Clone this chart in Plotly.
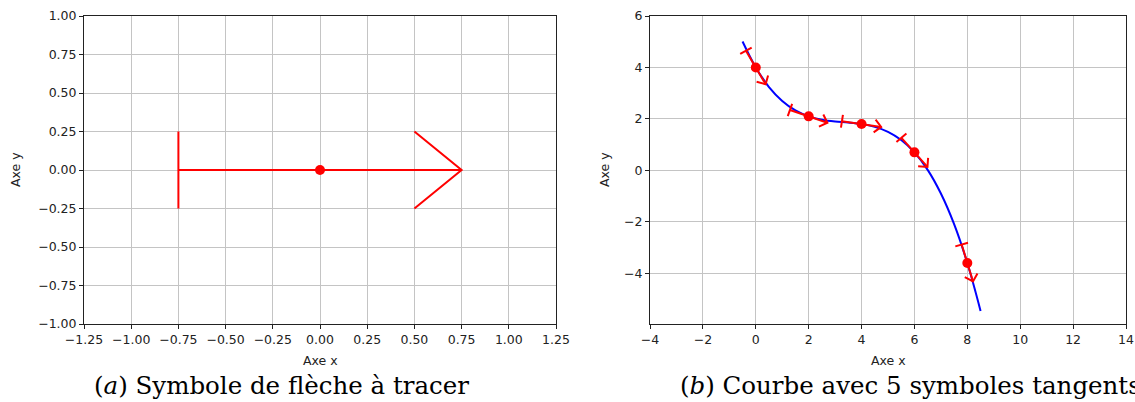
import math
import plotly.graph_objects as go

# ---------------- Data ----------------
# Panel (a): the arrow symbol (T-bar tail, shaft, chevron head)
symbol_x = [-0.75, -0.75, None, -0.75, 0.75, None, 0.5, 0.75, 0.5]
symbol_y = [0.25, -0.25, None, 0.0, 0.0, None, 0.25, 0.0, -0.25]
symbol_center_x = [0.0]
symbol_center_y = [0.0]

# Panel (b): curve
curve_x = [-0.5, 0.0, 0.5, 1.0, 1.5, 2.0, 2.5, 3.0, 3.5, 4.0, 4.5, 5.0, 5.5,
           6.0, 6.5, 7.0, 7.5, 8.0, 8.5]
curve_y = [5.01, 4.00, 3.24, 2.70, 2.33, 2.10, 1.97, 1.90, 1.86, 1.80, 1.69,
           1.50, 1.18, 0.70, 0.02, -0.90, -2.09, -3.60, -5.46]

# the 5 points carrying a tangent symbol and the tangent slope there
point_x = [0, 2, 4, 6, 8]
point_y = [4.0, 2.1, 1.8, 0.7, -3.6]
tangent_slope = [-1.75, -0.35, -0.15, -1.15, -3.35]

# axis ticks
xa_ticks = [-1.25, -1.0, -0.75, -0.5, -0.25, 0.0, 0.25, 0.5, 0.75, 1.0, 1.25]
ya_ticks = [-1.0, -0.75, -0.5, -0.25, 0.0, 0.25, 0.5, 0.75, 1.0]
xb_ticks = [-4, -2, 0, 2, 4, 6, 8, 10, 12, 14]
yb_ticks = [-4, -2, 0, 2, 4, 6]

RED = "#ff0000"
BLUE = "#0000ff"

W, H = 1135, 402


def px_x(p):
    return p / W


def px_y(p):
    return 1 - p / H


fig = go.Figure()

# ---- panel (a)
fig.add_trace(go.Scatter(x=symbol_x, y=symbol_y, mode="lines",
                         line=dict(color=RED, width=2), xaxis="x", yaxis="y",
                         showlegend=False, hoverinfo="skip"))
fig.add_trace(go.Scatter(x=symbol_center_x, y=symbol_center_y, mode="markers",
                         marker=dict(color=RED, size=10), xaxis="x", yaxis="y",
                         showlegend=False))

# ---- panel (b)
fig.add_trace(go.Scatter(x=curve_x, y=curve_y, mode="lines",
                         line=dict(color=BLUE, width=2, shape="spline"),
                         xaxis="x2", yaxis="y2", showlegend=False))

sx_all, sy_all = [], []
for cx, cy, m in zip(point_x, point_y, tangent_slope):
    th = math.atan(m)
    c, s = math.cos(th), math.sin(th)
    for ux, uy in zip(symbol_x, symbol_y):
        if ux is None:
            sx_all.append(None)
            sy_all.append(None)
        else:
            sx_all.append(cx + ux * c - uy * s)
            sy_all.append(cy + ux * s + uy * c)
    sx_all.append(None)
    sy_all.append(None)

fig.add_trace(go.Scatter(x=sx_all, y=sy_all, mode="lines",
                         line=dict(color=RED, width=2), xaxis="x2", yaxis="y2",
                         showlegend=False, hoverinfo="skip"))
fig.add_trace(go.Scatter(x=point_x, y=point_y, mode="markers",
                         marker=dict(color=RED, size=10), xaxis="x2", yaxis="y2",
                         showlegend=False))

TICKFONT = dict(family="DejaVu Sans", size=12.5, color="#222222")
axis_common = dict(showgrid=True, gridcolor="#c4c4c4", gridwidth=1,
                   zeroline=False, showline=True, linecolor="#222222",
                   linewidth=1, mirror=True, ticks="outside", ticklen=4,
                   tickcolor="#222222", tickwidth=1, tickfont=TICKFONT,
                   automargin=False)

ydom = [px_y(324), px_y(16)]

fig.update_layout(
    width=W, height=H,
    margin=dict(l=0, r=0, t=0, b=0, pad=0, autoexpand=False),
    paper_bgcolor="white", plot_bgcolor="white",
    xaxis=dict(domain=[px_x(84), px_x(556)], range=[-1.25, 1.25],
               tickvals=xa_ticks, tickformat=".2f", anchor="y", **axis_common),
    yaxis=dict(domain=ydom, range=[-1, 1], tickvals=ya_ticks,
               tickformat=".2f", anchor="x", **axis_common),
    xaxis2=dict(domain=[px_x(650), px_x(1126)], range=[-4, 14],
                tickvals=xb_ticks, anchor="y2", **axis_common),
    yaxis2=dict(domain=ydom, range=[-5.97, 6], tickvals=yb_ticks,
                anchor="x2", **axis_common),
)

LABELFONT = dict(family="DejaVu Sans", size=12.5, color="#222222")
CAPFONT = dict(family="DejaVu Serif", size=24.5, color="#000000")

annotations = [
    dict(text="Axe x", x=px_x(320), y=px_y(360), xref="paper", yref="paper",
         showarrow=False, font=LABELFONT, xanchor="center", yanchor="middle"),
    dict(text="Axe x", x=px_x(888), y=px_y(360), xref="paper", yref="paper",
         showarrow=False, font=LABELFONT, xanchor="center", yanchor="middle"),
    dict(text="Axe y", x=px_x(16), y=px_y(170), xref="paper", yref="paper",
         showarrow=False, font=LABELFONT, textangle=-90,
         xanchor="center", yanchor="middle"),
    dict(text="Axe y", x=px_x(605), y=px_y(170), xref="paper", yref="paper",
         showarrow=False, font=LABELFONT, textangle=-90,
         xanchor="center", yanchor="middle"),
    dict(text="(<i>a</i>) Symbole de flèche à tracer", x=px_x(92), y=px_y(385),
         xref="paper", yref="paper", showarrow=False, font=CAPFONT,
         xanchor="left", yanchor="middle"),
    dict(text="(<i>b</i>) Courbe avec 5 symboles tangents", x=px_x(678),
         y=px_y(385), xref="paper", yref="paper", showarrow=False,
         font=CAPFONT, xanchor="left", yanchor="middle"),
]
fig.update_layout(annotations=annotations)

fig.write_html(
    "out.html",
    config={"displayModeBar": False},
    post_script="document.body.style.margin='0';"
                "document.body.style.overflow='hidden';",
)
